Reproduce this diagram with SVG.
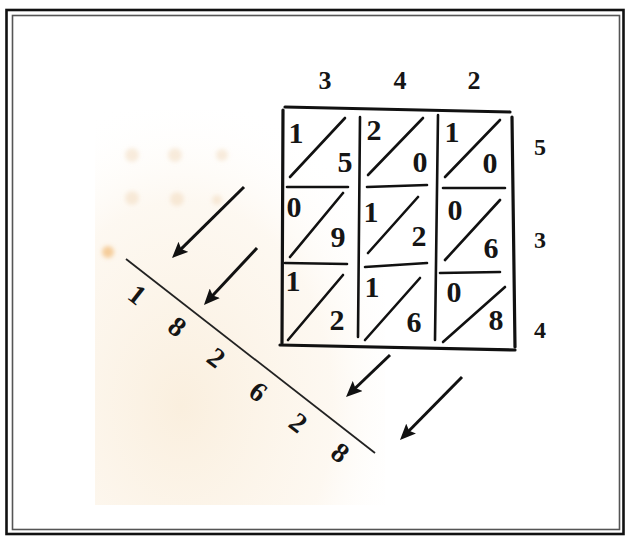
<svg xmlns="http://www.w3.org/2000/svg" width="627" height="537" viewBox="0 0 627 537">
<style>
.ln{stroke:#111;stroke-width:2.6;fill:none;stroke-linecap:round}
.bd{stroke:#111;stroke-width:3.2;fill:none;stroke-linecap:round}
.d{font-family:"Liberation Serif","DejaVu Serif",serif;font-weight:bold;fill:#151515;text-anchor:middle}
.c{font-size:30px}
.t{font-size:26px}
.s{font-size:28px}
.r{font-size:24px}
.arr{stroke:#111;stroke-width:3;fill:none;stroke-linecap:butt}
.dot{fill:#ecc9a0;opacity:0.35}
</style>
<defs>
<marker id="ah" viewBox="0 0 16 14" refX="8" refY="7" markerWidth="16" markerHeight="14" markerUnits="userSpaceOnUse" orient="auto">
<path d="M0,0 L16,7 L0,14 L3,7 z" fill="#111"/>
</marker>
<radialGradient id="paper" cx="0.3" cy="0.75" r="0.8">
<stop offset="0" stop-color="#f8e8d0" stop-opacity="0.7"/>
<stop offset="0.65" stop-color="#fbf0e0" stop-opacity="0.45"/>
<stop offset="1" stop-color="#ffffff" stop-opacity="0"/>
</radialGradient>
<filter id="blur"><feGaussianBlur stdDeviation="2.2"/></filter>
</defs>
<rect width="627" height="537" fill="#fff"/>
<g id="frame">
<rect x="6.5" y="10" width="617" height="524" fill="none" stroke="#111" stroke-width="2.6"/>
<rect x="12.5" y="15.5" width="607" height="514" fill="none" stroke="#555" stroke-width="1.6"/>
</g>
<g id="paper-stains">
<rect x="95" y="110" width="290" height="395" fill="url(#paper)"/>
<g filter="url(#blur)">
<circle class="dot" cx="132" cy="155" r="7"/>
<circle class="dot" cx="175" cy="155" r="7"/>
<circle class="dot" cx="222" cy="155" r="6"/>
<circle class="dot" cx="132" cy="198" r="7"/>
<circle class="dot" cx="177" cy="199" r="7"/>
<circle class="dot" cx="217" cy="200" r="5"/>
<circle cx="108" cy="252" r="6" fill="#f0b063" opacity="0.6"/>
</g>
</g>
<g id="grid">
<path class="bd" d="M285,107 L510,112"/>
<path class="bd" d="M280,345 L515,350"/>
<path class="bd" d="M283,110 L282,343"/>
<path class="bd" d="M512,117 L515,347"/>
<path class="ln" d="M360,117 L358,337"/>
<path class="ln" d="M438,115 L435,340"/>
<path class="ln" d="M287,187 L348,187 M367,187 L427,185 M443,188 L505,188"/>
<path class="ln" d="M285,263 L347,264 M365,267 L427,263 M440,273 L500,272"/>
<path class="ln" d="M290,177 L345,118 M368,175 L423,118 M445,177 L500,120"/>
<path class="ln" d="M290,257 L343,193 M368,253 L418,197 M445,260 L500,200"/>
<path class="ln" d="M288,340 L343,275 M365,340 L420,278 M443,342 L505,287"/>
</g>
<g id="cells">
<text class="d c" x="296" y="143">1</text>
<text class="d c" x="345" y="172">5</text>
<text class="d c" x="374" y="140">2</text>
<text class="d c" x="420" y="172">0</text>
<text class="d c" x="452" y="142">1</text>
<text class="d c" x="490" y="173">0</text>
<text class="d c" x="294" y="217">0</text>
<text class="d c" x="338" y="247">9</text>
<text class="d c" x="371" y="222">1</text>
<text class="d c" x="419" y="246">2</text>
<text class="d c" x="455" y="220">0</text>
<text class="d c" x="491" y="258">6</text>
<text class="d c" x="293" y="291">1</text>
<text class="d c" x="337" y="330">2</text>
<text class="d c" x="372" y="297">1</text>
<text class="d c" x="414" y="332">6</text>
<text class="d c" x="454" y="302">0</text>
<text class="d c" x="496" y="330">8</text>
</g>
<g id="top-factor">
<text class="d t" x="325" y="89">3</text>
<text class="d t" x="400" y="89">4</text>
<text class="d t" x="474" y="89">2</text>
</g>
<g id="side-factor">
<text class="d r" x="540" y="155">5</text>
<text class="d r" x="540" y="248">3</text>
<text class="d r" x="540" y="338">4</text>
</g>
<g id="result">
<path d="M126,259 L375,453" stroke="#222" stroke-width="1.8" fill="none"/>
<g class="d s">
<text transform="translate(137,295) rotate(38)" y="9">1</text>
<text transform="translate(177,327) rotate(38)" y="9">8</text>
<text transform="translate(216,358) rotate(38)" y="9">2</text>
<text transform="translate(258,392) rotate(38)" y="9">6</text>
<text transform="translate(298,423) rotate(38)" y="9">2</text>
<text transform="translate(340,453) rotate(38)" y="9">8</text>
</g>
</g>
<g id="connectors">
<path class="arr" d="M244,187 L177.7,252.4" marker-end="url(#ah)"/>
<path class="arr" d="M257,248 L209.4,299.1" marker-end="url(#ah)"/>
<path class="arr" d="M390,355 L351.8,391.5" marker-end="url(#ah)"/>
<path class="arr" d="M462,377 L405.6,434.3" marker-end="url(#ah)"/>
</g>
</svg>
